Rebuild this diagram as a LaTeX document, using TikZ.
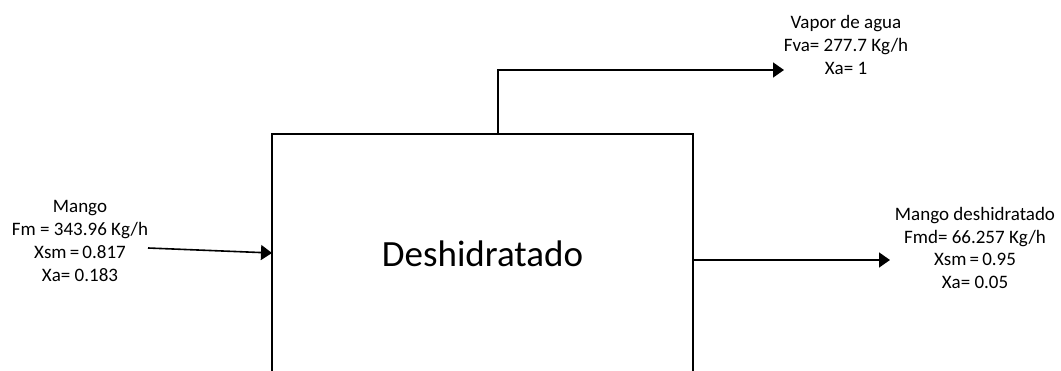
\documentclass[tikz,border=0pt]{standalone}
\usepackage{fontspec}
\setmainfont{Carlito}
\usetikzlibrary{arrows.meta}
\begin{document}
\begin{tikzpicture}[x=1pt,y=-1pt,
  flow/.style={line width=1.6pt,-{Triangle[length=11pt,width=15pt]}},
  lbl/.style={align=center,inner sep=0pt,font=\fontsize{19}{22.7}\selectfont},
  unitbox/.style={draw,line width=1.6pt,minimum width=421pt,minimum height=270pt,inner sep=0pt}]
\useasboundingbox (0,0) rectangle (1061,371);
\clip (0,0) rectangle (1061,371);
\node[unitbox] (box) at (482.5,269) {};
\node[anchor=base,inner sep=0pt,font=\fontsize{37}{40}\selectfont] (title) at (482.5,267) {Deshidratado};
% labels
\node[lbl] (inlbl) at (80,241) {Mango\\Fm = 343.96 Kg/h\\Xsm\,=\,0.817\\Xa= 0.183};
\node[lbl] (outlbl) at (975,248) {Mango deshidratado\\Fmd= 66.257 Kg/h\\Xsm\,=\,0.95\\Xa= 0.05};
\node[lbl] (toplbl) at (846,45) {Vapor de agua\\Fva= 277.7 Kg/h\\Xa= 1};
% connectors
\coordinate (inS) at (148,248);
\coordinate (inE) at (272,253);
\coordinate (topS) at (498,134);
\coordinate (topC) at (498,70);
\coordinate (topE) at (784,70);
\coordinate (outS) at (693,260);
\coordinate (outE) at (890,260);
\draw[flow] (inS) -- (inE);
\draw[flow] (topS) -- (topC) -- (topE);
\draw[flow] (outS) -- (outE);
\end{tikzpicture}
\end{document}
